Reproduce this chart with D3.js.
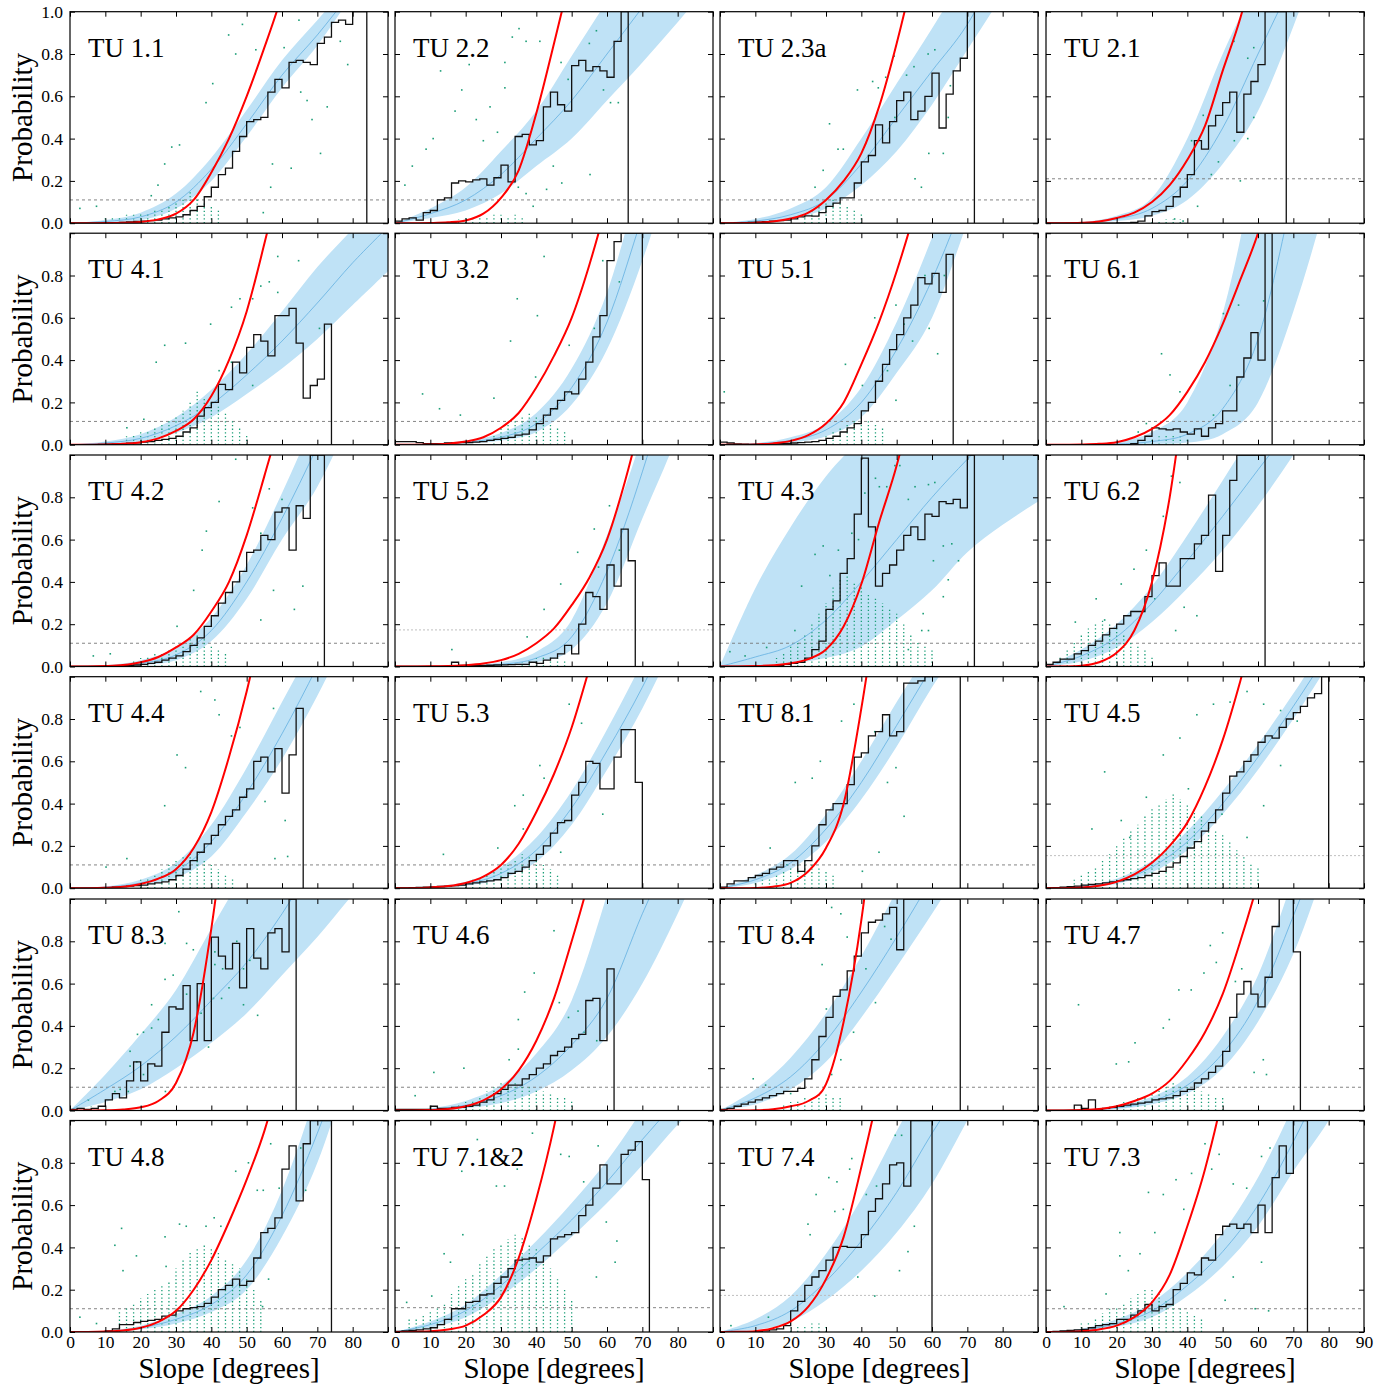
<!DOCTYPE html>
<html lang="en">
  <head>
    <meta charset="UTF-8" />
    <title>Probability vs slope</title>
    <script src="https://d3js.org/d3.v7.min.js"></script>
    <style>
      body { margin: 0; background: #fff; }
      text { font-family: "Liberation Serif", "DejaVu Serif", serif; }
    </style>
  </head>
  <body>
    <svg width="1397" height="1387"></svg>
    <script>
      // panel names, row by row
      var names = ["TU 1.1", "TU 2.2", "TU 2.3a", "TU 2.1",
                   "TU 4.1", "TU 3.2", "TU 5.1", "TU 6.1",
                   "TU 4.2", "TU 5.2", "TU 4.3", "TU 6.2",
                   "TU 4.4", "TU 5.3", "TU 8.1", "TU 4.5",
                   "TU 8.3", "TU 4.6", "TU 8.4", "TU 4.7",
                   "TU 4.8", "TU 7.1&2", "TU 7.4", "TU 7.3"];

      // slopes (degrees) where the fitted curves and the band were read
      var knots = [0, 10, 20, 30, 40, 50, 60, 70, 80, 90];
      // slopes where the steeper red curves were read
      var redKnots = [0, 5, 10, 15, 20, 25, 30, 35, 40, 45, 50, 55, 60, 65, 70, 75, 80, 85, 90];

      // fitted curve (thin blue line)
      var centre = [
        [0, 0.008, 0.03, 0.1, 0.255, 0.47, 0.7, 0.89, 1.1, 1.3],
        [0, 0.045, 0.11, 0.23, 0.4, 0.58, 0.8, 1.02, 1.25, 1.5],
        [0, 0.01, 0.04, 0.11, 0.28, 0.5, 0.72, 0.94, 1.25, 1.55],
        [0, 0.003, 0.02, 0.07, 0.2, 0.45, 0.8, 1.15, 1.5, 1.9],
        [0, 0.008, 0.03, 0.09, 0.19, 0.33, 0.49, 0.67, 0.86, 1.03],
        [0, 0.002, 0.012, 0.035, 0.1, 0.27, 0.58, 1.08, 1.6, 2.2],
        [0, 0.004, 0.02, 0.07, 0.2, 0.45, 0.78, 1.2, 1.7, 2.2],
        [0, 0, 0.003, 0.015, 0.05, 0.17, 0.5, 1.2, 2, 3],
        [0, 0.003, 0.015, 0.055, 0.17, 0.4, 0.7, 1.04, 1.4, 1.8],
        [0, 0, 0.003, 0.01, 0.04, 0.14, 0.45, 0.92, 1.5, 2.2],
        [0, 0.045, 0.1, 0.22, 0.4, 0.6, 0.8, 0.98, 1.15, 1.3],
        [0, 0.05, 0.14, 0.3, 0.5, 0.71, 0.93, 1.15, 1.4, 1.65],
        [0, 0.005, 0.025, 0.08, 0.22, 0.45, 0.73, 1.05, 1.4, 1.8],
        [0, 0.004, 0.02, 0.07, 0.18, 0.38, 0.65, 0.95, 1.3, 1.7],
        [0, 0.04, 0.12, 0.28, 0.5, 0.77, 1.05, 1.35, 1.65, 2],
        [0, 0.008, 0.03, 0.1, 0.22, 0.4, 0.62, 0.86, 1.12, 1.4],
        [0, 0.1, 0.21, 0.35, 0.52, 0.7, 0.93, 1.2, 1.45, 1.7],
        [0, 0.005, 0.025, 0.07, 0.16, 0.31, 0.53, 0.93, 1.3, 1.7],
        [0, 0.06, 0.16, 0.33, 0.56, 0.82, 1.1, 1.4, 1.7, 2],
        [0, 0.002, 0.012, 0.045, 0.12, 0.27, 0.52, 0.92, 1.35, 1.8],
        [0, 0.003, 0.02, 0.06, 0.13, 0.27, 0.55, 0.94, 1.4, 1.9],
        [0, 0.035, 0.1, 0.22, 0.37, 0.53, 0.71, 0.91, 1.1, 1.3],
        [0, 0.03, 0.1, 0.24, 0.43, 0.66, 0.94, 1.2, 1.5, 1.8],
        [0, 0.01, 0.04, 0.1, 0.22, 0.38, 0.6, 0.9, 1.25, 1.6]
      ];

      // lower edge of the blue band
      var lower = [
        [0, 0.003, 0.015, 0.07, 0.2, 0.41, 0.64, 0.84, 1.08, 1.3],
        [0, 0.025, 0.06, 0.14, 0.27, 0.4, 0.58, 0.76, 0.95, 1.15],
        [0, 0.005, 0.02, 0.07, 0.18, 0.34, 0.56, 0.82, 1.08, 1.35],
        [0, 0.001, 0.01, 0.035, 0.11, 0.28, 0.53, 0.93, 1.4, 1.9],
        [0, 0.003, 0.015, 0.055, 0.13, 0.24, 0.36, 0.5, 0.66, 0.82],
        [0, 0.001, 0.006, 0.02, 0.06, 0.19, 0.45, 0.87, 1.4, 2],
        [0, 0.002, 0.01, 0.04, 0.13, 0.34, 0.6, 1.05, 1.5, 2],
        [0, 0, 0, 0.003, 0.01, 0.05, 0.2, 0.63, 1.2, 1.9],
        [0, 0.001, 0.007, 0.03, 0.12, 0.32, 0.6, 0.85, 1.2, 1.6],
        [0, 0, 0.001, 0.005, 0.02, 0.08, 0.3, 0.7, 1.1, 1.6],
        [0, 0.005, 0.015, 0.04, 0.095, 0.22, 0.36, 0.54, 0.67, 0.78],
        [0, 0.025, 0.09, 0.21, 0.37, 0.55, 0.76, 1.0, 1.25, 1.5],
        [0, 0.002, 0.015, 0.05, 0.15, 0.36, 0.61, 0.91, 1.25, 1.6],
        [0, 0.002, 0.012, 0.045, 0.125, 0.3, 0.56, 0.85, 1.2, 1.6],
        [0, 0.025, 0.09, 0.22, 0.42, 0.67, 0.95, 1.2, 1.5, 1.8],
        [0, 0.005, 0.02, 0.075, 0.18, 0.35, 0.56, 0.8, 1.06, 1.32],
        [0, 0.04, 0.1, 0.2, 0.32, 0.46, 0.64, 0.82, 1.02, 1.2],
        [0, 0.002, 0.01, 0.035, 0.09, 0.19, 0.35, 0.6, 0.93, 1.3],
        [0, 0.03, 0.1, 0.23, 0.44, 0.68, 0.93, 1.2, 1.5, 1.8],
        [0, 0.001, 0.007, 0.03, 0.08, 0.2, 0.42, 0.74, 1.2, 1.7],
        [0, 0.001, 0.012, 0.04, 0.095, 0.2, 0.45, 0.8, 1.3, 1.8],
        [0, 0.02, 0.07, 0.17, 0.3, 0.45, 0.61, 0.79, 0.98, 1.15],
        [0, 0.01, 0.05, 0.15, 0.29, 0.47, 0.7, 1.0, 1.3, 1.6],
        [0, 0.005, 0.025, 0.07, 0.17, 0.31, 0.5, 0.76, 1.0, 1.3]
      ];

      // upper edge of the blue band
      var upper = [
        [0, 0.015, 0.05, 0.14, 0.31, 0.535, 0.77, 0.96, 1.15, 1.35],
        [0, 0.07, 0.17, 0.34, 0.53, 0.79, 1.05, 1.3, 1.6, 1.9],
        [0, 0.02, 0.07, 0.17, 0.4, 0.66, 0.92, 1.2, 1.5, 1.8],
        [0, 0.005, 0.035, 0.12, 0.4, 0.8, 1.15, 1.5, 1.9, 2.3],
        [0, 0.015, 0.05, 0.13, 0.26, 0.43, 0.63, 0.84, 1.02, 1.2],
        [0, 0.004, 0.02, 0.055, 0.15, 0.36, 0.72, 1.3, 1.9, 2.5],
        [0, 0.007, 0.035, 0.1, 0.27, 0.58, 0.98, 1.45, 2, 2.5],
        [0, 0.002, 0.015, 0.06, 0.2, 0.62, 1.4, 2.4, 3.5, 4.5],
        [0, 0.006, 0.03, 0.09, 0.23, 0.48, 0.82, 1.2, 1.6, 2],
        [0, 0.001, 0.005, 0.02, 0.07, 0.22, 0.62, 1.1, 1.8, 2.5],
        [0, 0.37, 0.66, 0.9, 1.08, 1.25, 1.4, 1.55, 1.7, 1.85],
        [0, 0.08, 0.2, 0.38, 0.62, 0.88, 1.15, 1.45, 1.75, 2.05],
        [0, 0.008, 0.04, 0.12, 0.3, 0.57, 0.88, 1.2, 1.6, 2],
        [0, 0.007, 0.03, 0.1, 0.24, 0.46, 0.75, 1.07, 1.4, 1.8],
        [0, 0.06, 0.16, 0.35, 0.6, 0.88, 1.15, 1.45, 1.8, 2.1],
        [0, 0.012, 0.045, 0.13, 0.27, 0.46, 0.68, 0.92, 1.18, 1.45],
        [0, 0.17, 0.36, 0.57, 0.86, 1.15, 1.45, 1.75, 2.05, 2.35],
        [0, 0.01, 0.045, 0.12, 0.27, 0.52, 1.02, 1.6, 2.2, 2.8],
        [0, 0.1, 0.25, 0.46, 0.73, 1.04, 1.35, 1.7, 2, 2.3],
        [0, 0.004, 0.02, 0.065, 0.16, 0.35, 0.64, 1.1, 1.6, 2.1],
        [0, 0.005, 0.03, 0.085, 0.17, 0.34, 0.67, 1.15, 1.7, 2.2],
        [0, 0.05, 0.13, 0.27, 0.43, 0.61, 0.81, 1.05, 1.3, 1.55],
        [0, 0.06, 0.17, 0.37, 0.63, 0.95, 1.25, 1.6, 1.9, 2.2],
        [0, 0.015, 0.06, 0.14, 0.28, 0.47, 0.73, 1.07, 1.45, 1.85]
      ];

      // red reference curve, read every 5 degrees
      var redCurve = [
        [0,0,0.0005,0.002,0.006,0.018,0.045,0.11,0.24,0.4,0.6,0.83,1.08,1.4,1.8,2.2,2.6,3.0,3.5],
        [0,0,0.001,0.004,0.013,0.045,0.12,0.25,0.52,0.85,1.2,1.6,2.2,2.8,3.5,4.2,5,6,7],
        [0,0,0.002,0.008,0.022,0.05,0.11,0.2,0.33,0.55,0.85,1.2,1.6,2.1,2.6,3.2,4,4.7,5.5],
        [0,0,0.002,0.008,0.025,0.05,0.1,0.18,0.3,0.46,0.72,0.97,1.3,1.7,2.1,2.5,3,3.5,4],
        [0,0,0.001,0.004,0.012,0.03,0.065,0.12,0.23,0.4,0.63,0.95,1.3,1.7,2.2,2.7,3.3,3.9,4.5],
        [0,0,0.001,0.005,0.015,0.035,0.08,0.15,0.27,0.42,0.6,0.85,1.15,1.5,1.9,2.3,2.8,3.3,3.8],
        [0,0,0.001,0.006,0.018,0.045,0.1,0.2,0.38,0.58,0.82,1.1,1.45,1.9,2.4,3,3.6,4.3,5],
        [0,0,0.001,0.004,0.012,0.035,0.075,0.14,0.25,0.39,0.57,0.78,1.0,1.3,1.6,2,2.4,2.8,3.3],
        [0,0,0.002,0.007,0.02,0.045,0.09,0.15,0.26,0.4,0.62,0.9,1.2,1.55,2,2.5,3,3.5,4],
        [0,0,0.001,0.002,0.006,0.014,0.03,0.06,0.11,0.18,0.29,0.42,0.6,0.87,1.2,1.6,2,2.5,3],
        [0,0,0.002,0.006,0.015,0.035,0.08,0.19,0.39,0.68,0.95,1.3,1.8,2.4,3,3.7,4.5,5.2,6],
        [0,0,0.003,0.02,0.065,0.17,0.4,0.8,1.4,2.1,3,4,5,6,7,8,9,10,11],
        [0,0,0.002,0.007,0.02,0.045,0.09,0.19,0.36,0.62,0.93,1.3,1.7,2.2,2.8,3.4,4,4.7,5.5],
        [0,0,0.003,0.01,0.025,0.055,0.11,0.21,0.36,0.54,0.76,1.04,1.35,1.7,2.1,2.5,3,3.5,4],
        [0,0,0.001,0.007,0.025,0.08,0.19,0.4,0.85,1.4,2,2.7,3.5,4.2,5,6,7,8,9],
        [0,0,0.003,0.012,0.03,0.065,0.12,0.2,0.31,0.48,0.7,0.98,1.3,1.65,2,2.5,3,3.5,4],
        [0,0,0.001,0.005,0.015,0.045,0.13,0.37,0.86,1.5,2.2,3,4,5,6,7,8,9,10],
        [0,0,0.002,0.007,0.02,0.048,0.1,0.19,0.33,0.53,0.8,1.1,1.5,1.9,2.3,2.7,3.2,3.7,4.2],
        [0,0,0.001,0.006,0.02,0.045,0.125,0.42,0.9,1.6,2.5,3.5,4.5,5.5,6.5,7.5,8.5,9.5,10.5],
        [0,0,0.002,0.007,0.02,0.045,0.08,0.14,0.24,0.37,0.55,0.8,1.08,1.4,1.8,2.2,2.7,3.2,3.7],
        [0,0,0.002,0.007,0.02,0.048,0.1,0.2,0.34,0.52,0.72,0.95,1.25,1.6,2,2.5,3,3.5,4],
        [0,0,0.003,0.012,0.03,0.08,0.165,0.35,0.63,0.97,1.4,1.9,2.5,3.2,4,4.7,5.5,6.2,7],
        [0,0.001,0.004,0.018,0.05,0.12,0.25,0.45,0.78,1.15,1.6,2.2,2.8,3.4,4,4.7,5.5,6.2,7],
        [0,0,0.004,0.012,0.03,0.07,0.14,0.27,0.5,0.77,1.12,1.6,2.2,2.8,3.5,4.2,5,5.7,6.5]
      ];

      // observed probability per 2-degree slope bin, first bin starts at 0
      var binWidth = 2;
      var hist = [
        [0,0,0,0,0,0.002,0.003,0.004,0.006,0.008,0.01,0.012,0.015,0.02,0.025,0.03,0.04,0.06,0.08,0.125,0.17,0.23,0.26,0.34,0.41,0.48,0.49,0.5,0.62,0.68,0.64,0.76,0.77,0.76,0.75,0.85,0.88,0.95,0.96,0.94,1,1],
        [0.01,0.02,0.025,0.015,0.05,0.06,0.11,0.12,0.19,0.2,0.195,0.205,0.21,0.18,0.215,0.275,0.195,0.41,0.42,0.37,0.39,0.55,0.62,0.56,0.53,0.745,0.77,0.72,0.74,0.72,0.69,0.86,1],
        [0,0,0.002,0.003,0.004,0.005,0.007,0.01,0.012,0.015,0.02,0.03,0.035,0.033,0.05,0.08,0.095,0.12,0.12,0.19,0.29,0.32,0.465,0.38,0.48,0.58,0.62,0.49,0.53,0.6,0.71,0.45,0.61,0.72,0.78,1],
        [0,0,0,0,0,0,0,0,0,0,0.001,0.002,0.004,0.01,0.035,0.055,0.06,0.08,0.125,0.17,0.23,0.39,0.35,0.46,0.51,0.57,0.62,0.43,0.61,0.67,0.75,1,1,1],
        [0,0,0,0,0.002,0.003,0.004,0.005,0.007,0.009,0.012,0.015,0.02,0.025,0.03,0.04,0.06,0.08,0.135,0.175,0.2,0.285,0.26,0.39,0.34,0.46,0.52,0.49,0.42,0.61,0.61,0.645,0.48,0.22,0.28,0.31,0.57],
        [0.015,0.015,0.015,0.01,0.005,0.005,0.005,0.008,0.01,0.01,0.01,0.012,0.015,0.02,0.025,0.03,0.035,0.045,0.05,0.07,0.1,0.14,0.17,0.21,0.25,0.24,0.31,0.39,0.51,0.61,0.87,0.96,1,1,1],
        [0.012,0.008,0.004,0.003,0.002,0.002,0.003,0.004,0.005,0.006,0.008,0.01,0.012,0.015,0.02,0.03,0.04,0.06,0.08,0.1,0.16,0.2,0.3,0.38,0.45,0.52,0.6,0.66,0.79,0.76,0.81,0.72,0.9],
        [0,0,0,0,0,0,0,0,0,0,0,0,0.005,0.02,0.04,0.08,0.075,0.07,0.075,0.06,0.05,0.075,0.04,0.08,0.1,0.16,0.16,0.32,0.41,0.53,0.4,1],
        [0,0,0,0,0,0.002,0.003,0.004,0.005,0.007,0.01,0.015,0.02,0.03,0.04,0.05,0.07,0.1,0.135,0.19,0.24,0.3,0.35,0.4,0.45,0.54,0.55,0.62,0.6,0.73,0.75,0.55,0.76,0.7,1,1],
        [0,0,0,0,0,0,0,0,0.02,0.005,0.005,0.005,0.005,0.006,0.007,0.008,0.009,0.01,0.01,0.02,0.015,0.03,0.04,0.06,0.1,0.06,0.2,0.35,0.33,0.27,0.48,0.38,0.65,0.5],
        [0,0,0,0,0,0,0,0,0.005,0.01,0.015,0.02,0.04,0.08,0.12,0.27,0.31,0.44,0.51,0.72,0.985,0.66,0.38,0.44,0.48,0.55,0.62,0.66,0.6,0.72,0.71,0.78,0.77,0.79,0.75,1],
        [0.01,0.02,0.035,0.035,0.06,0.075,0.1,0.12,0.15,0.18,0.2,0.24,0.26,0.26,0.33,0.43,0.49,0.38,0.38,0.51,0.51,0.58,0.62,0.81,0.45,0.62,0.88,1,1,1,1],
        [0,0,0,0,0.002,0.003,0.005,0.007,0.01,0.012,0.015,0.02,0.025,0.03,0.04,0.06,0.09,0.13,0.17,0.21,0.25,0.3,0.34,0.37,0.43,0.47,0.6,0.62,0.55,0.66,0.45,0.63,0.85],
        [0.002,0.002,0.003,0.004,0.005,0.006,0.008,0.01,0.012,0.015,0.02,0.025,0.03,0.035,0.04,0.05,0.07,0.08,0.1,0.13,0.16,0.2,0.26,0.31,0.32,0.44,0.5,0.6,0.59,0.47,0.47,0.62,0.75,0.75,0.5],
        [0.005,0.02,0.035,0.035,0.05,0.06,0.07,0.09,0.1,0.13,0.13,0.08,0.13,0.2,0.3,0.37,0.4,0.4,0.49,0.62,0.64,0.72,0.74,0.82,0.72,0.74,0.97,0.97,0.98,1,1,1,1,1],
        [0.002,0.003,0.005,0.007,0.01,0.015,0.018,0.02,0.025,0.03,0.035,0.04,0.045,0.05,0.06,0.07,0.08,0.1,0.12,0.15,0.19,0.22,0.27,0.31,0.37,0.45,0.53,0.55,0.6,0.63,0.69,0.72,0.71,0.76,0.8,0.83,0.86,0.9,0.92,1],
        [0.005,0.01,0.005,0.01,0.02,0.05,0.08,0.06,0.14,0.23,0.14,0.22,0.21,0.37,0.49,0.48,0.59,0.33,0.6,0.33,0.82,0.73,0.67,0.79,0.58,0.86,0.72,0.67,0.84,0.86,0.75,1],
        [0.005,0.005,0.005,0.005,0.005,0.02,0.01,0.01,0.015,0.015,0.02,0.025,0.04,0.05,0.08,0.1,0.12,0.12,0.15,0.17,0.2,0.22,0.26,0.28,0.3,0.34,0.36,0.52,0.53,0.33,0.67],
        [0.005,0.01,0.02,0.03,0.04,0.05,0.06,0.07,0.08,0.09,0.09,0.105,0.15,0.24,0.35,0.44,0.54,0.57,0.66,0.73,0.84,0.89,0.9,0.93,0.96,0.76,1,1,1,1,1,1,1,1],
        [0,0,0,0,0.025,0.01,0.05,0.005,0.01,0.015,0.02,0.025,0.03,0.035,0.04,0.05,0.055,0.06,0.07,0.09,0.1,0.13,0.15,0.18,0.21,0.28,0.44,0.55,0.61,0.55,0.49,0.63,0.87,1,1,0.75],
        [0,0,0,0,0,0.005,0.015,0.035,0.035,0.045,0.05,0.055,0.06,0.075,0.08,0.1,0.11,0.115,0.12,0.135,0.165,0.2,0.22,0.25,0.22,0.24,0.35,0.47,0.49,0.54,0.77,0.88,0.62,0.89,1,1,1],
        [0.003,0.005,0.008,0.01,0.015,0.02,0.035,0.06,0.11,0.11,0.14,0.145,0.175,0.18,0.23,0.26,0.3,0.34,0.345,0.35,0.33,0.36,0.44,0.45,0.46,0.47,0.55,0.6,0.68,0.79,0.7,0.7,0.84,0.86,0.9,0.72],
        [0,0,0,0,0.002,0.003,0.005,0.01,0.015,0.03,0.1,0.145,0.22,0.26,0.29,0.34,0.4,0.405,0.4,0.4,0.46,0.57,0.63,0.7,0.79,0.8,0.69,1,1,1],
        [0,0.003,0.005,0.007,0.01,0.012,0.02,0.03,0.035,0.04,0.06,0.06,0.08,0.1,0.13,0.1,0.12,0.13,0.2,0.23,0.28,0.27,0.35,0.34,0.46,0.5,0.51,0.49,0.51,0.47,0.6,0.47,0.73,0.88,0.75,1,1]
      ];

      // dashed reference level, and whether it is drawn in light grey
      var level = [0.11, 0.11, 0.11, 0.21, 0.11, 0.11, 0.11, 0.11, 0.11, 0.173, 0.11, 0.11,
                   0.11, 0.11, 0.11, 0.154, 0.11, 0.11, 0.11, 0.11, 0.11, 0.115, 0.173, 0.11];
      var levelLight = [0,0,0,0, 0,0,0,0, 0,1,0,0, 0,0,0,1, 0,0,0,0, 0,0,1,0];

      // dense columns of cell samples: [slope, highest probability]
      var columns = [
        [[10,0.03],[12,0.03],[14,0.03],[16,0.04],[18,0.04],[20,0.05],[22,0.05],[24,0.06],[26,0.07],[28,0.08],[30,0.1],[32,0.12],[34,0.15],[36,0.12],[38,0.1],[40,0.08],[42,0.06]],
        [[18,0.02],[20,0.03],[22,0.02],[24,0.03],[26,0.03],[28,0.04],[30,0.04],[32,0.03],[34,0.04],[36,0.03]],
        [[24,0.04],[26,0.06],[28,0.08],[30,0.1],[32,0.12],[34,0.1],[36,0.08],[38,0.06],[40,0.05]],
        [[30,0.01],[32,0.015],[34,0.02],[36,0.02],[38,0.02]],
        [[16,0.04],[18,0.05],[20,0.06],[22,0.07],[24,0.08],[26,0.1],[28,0.12],[30,0.14],[32,0.16],[34,0.2],[36,0.25],[38,0.22],[40,0.2],[42,0.18],[44,0.15],[46,0.12],[48,0.08],[50,0.05]],
        [[28,0.05],[30,0.08],[32,0.1],[34,0.12],[36,0.14],[38,0.15],[40,0.13],[42,0.12],[44,0.1],[46,0.08],[48,0.06]],
        [[30,0.04],[32,0.06],[34,0.08],[36,0.1],[38,0.12],[40,0.14],[42,0.12],[44,0.1],[46,0.08]],
        [[28,0.02],[30,0.03],[32,0.04],[34,0.05],[36,0.05],[38,0.04],[40,0.03]],
        [[18,0.03],[20,0.04],[22,0.05],[24,0.06],[26,0.07],[28,0.08],[30,0.1],[32,0.12],[34,0.14],[36,0.15],[38,0.13],[40,0.1],[42,0.08],[44,0.06]],
        [[36,0.02],[38,0.03],[40,0.04],[42,0.05],[44,0.05],[46,0.04],[48,0.03]],
        [[16,0.04],[18,0.06],[20,0.1],[22,0.12],[24,0.15],[26,0.2],[28,0.25],[30,0.3],[32,0.38],[34,0.42],[36,0.45],[38,0.4],[40,0.38],[42,0.35],[44,0.32],[46,0.3],[48,0.28],[50,0.25],[52,0.2],[54,0.15],[56,0.12],[58,0.1],[60,0.08]],
        [[4,0.05],[6,0.08],[8,0.12],[10,0.15],[12,0.18],[14,0.2],[16,0.22],[18,0.2],[20,0.18],[22,0.15],[24,0.12],[26,0.1],[28,0.08],[30,0.05]],
        [[20,0.04],[22,0.05],[24,0.07],[26,0.09],[28,0.11],[30,0.13],[32,0.15],[34,0.17],[36,0.15],[38,0.13],[40,0.11],[42,0.09],[44,0.07],[46,0.05]],
        [[20,0.03],[22,0.04],[24,0.05],[26,0.06],[28,0.08],[30,0.1],[32,0.12],[34,0.14],[36,0.16],[38,0.15],[40,0.13],[42,0.11],[44,0.09],[46,0.07]],
        [[10,0.03],[12,0.04],[14,0.05],[16,0.06],[18,0.08],[20,0.1],[22,0.12],[24,0.13],[26,0.12],[28,0.1],[30,0.08],[32,0.06]],
        [[8,0.04],[10,0.06],[12,0.08],[14,0.1],[16,0.13],[18,0.16],[20,0.2],[22,0.24],[24,0.28],[26,0.3],[28,0.34],[30,0.38],[32,0.4],[34,0.42],[36,0.45],[38,0.42],[40,0.4],[42,0.38],[44,0.35],[46,0.3],[48,0.28],[50,0.25],[52,0.22],[54,0.18],[56,0.15],[58,0.12],[60,0.1]],
        [[2,0.01],[4,0.015],[6,0.02],[8,0.02],[10,0.02]],
        [[18,0.03],[20,0.04],[22,0.05],[24,0.07],[26,0.09],[28,0.11],[30,0.13],[32,0.14],[34,0.13],[36,0.12],[38,0.11],[40,0.1],[42,0.09],[44,0.08],[46,0.07],[48,0.06],[50,0.05]],
        [[18,0.03],[20,0.04],[22,0.05],[24,0.06],[26,0.07],[28,0.08],[30,0.08],[32,0.07],[34,0.06]],
        [[22,0.04],[24,0.05],[26,0.06],[28,0.07],[30,0.08],[32,0.1],[34,0.12],[36,0.13],[38,0.12],[40,0.11],[42,0.1],[44,0.09],[46,0.08],[48,0.07],[50,0.06]],
        [[14,0.1],[16,0.12],[18,0.14],[20,0.16],[22,0.18],[24,0.2],[26,0.22],[28,0.24],[30,0.3],[32,0.35],[34,0.38],[36,0.4],[38,0.42],[40,0.4],[42,0.38],[44,0.35],[46,0.32],[48,0.3],[50,0.25],[52,0.2],[54,0.15]],
        [[4,0.06],[6,0.07],[8,0.08],[10,0.1],[12,0.12],[14,0.14],[16,0.18],[18,0.22],[20,0.25],[22,0.28],[24,0.32],[26,0.36],[28,0.4],[30,0.42],[32,0.44],[34,0.46],[36,0.45],[38,0.42],[40,0.4],[42,0.35],[44,0.3],[46,0.25],[48,0.2],[50,0.15]],
        [[20,0.02],[22,0.03],[24,0.03],[26,0.04],[28,0.04],[30,0.03]],
        [[10,0.04],[12,0.05],[14,0.07],[16,0.09],[18,0.11],[20,0.12],[22,0.14],[24,0.16],[26,0.18],[28,0.2],[30,0.2],[32,0.18],[34,0.15],[36,0.13],[38,0.11],[40,0.1],[42,0.08],[44,0.06]]
      ];

      // scattered single samples: [slope, probability]
      var points = [
        [[44.9,0.89],[48.8,0.94],[46.9,0.8],[52.6,0.82],[60.6,0.83],[64.8,0.96],[76.5,0.86],[78.6,0.75],[72.8,0.55],[68.5,0.49],[70.9,0.33],[62.6,0.26],[40.4,0.66],[38.5,0.57],[28.8,0.36],[31,0.37],[26.8,0.28],[24.9,0.18],[23,0.13],[54.7,0.05],[56.8,0.17],[57.3,0.28],[65.3,0.62],[67.1,0.58],[2.8,0.07],[7.5,0.08]],
        [[35.1,0.92],[33.2,0.88],[37.1,0.86],[41,0.86],[12.9,0.72],[21,0.75],[57,0.91],[55,0.85],[47,0.76],[49,0.68],[59,0.63],[61,0.57],[63.2,0.57],[55.2,0.23],[44.8,0.27],[47.2,0.19],[10.8,0.4],[8.8,0.35],[4.9,0.27],[2.8,0.18],[26.9,0.55],[31.1,0.64],[17,0.53],[23,0.49],[25,0.39],[29,0.43],[31.1,0.76],[18.9,0.63],[37.1,0.14],[39.1,0.08],[34.9,0.17],[42.9,0.16]],
        [[49.3,0.79],[46.9,0.69],[52.8,0.7],[54.9,0.74],[58.9,0.8],[60.8,0.82],[43.2,0.67],[44.8,0.64],[38.9,0.63],[31,0.47],[29.2,0.25],[33.4,0.35],[34.9,0.35],[59.1,0.33],[63.2,0.33],[55.2,0.21],[57,0.17],[49.5,0.5],[64.6,0.5],[26.9,0.17],[65.2,0.65]],
        [[53.2,0.86],[58.8,0.83],[57.1,0.78],[44.5,0.51],[58.8,0.5],[41.2,0.39],[57.1,0.4],[53.3,0.39],[48.8,0.29],[46.8,0.23],[55,0.2],[42.9,0.08],[36.4,0.02],[38.8,0.01]],
        [[58.8,0.89],[64.7,0.87],[56.4,0.77],[54,0.75],[48.1,0.69],[45.7,0.65],[26.8,0.47],[32.7,0.48],[24.4,0.39],[39.8,0.57],[51.7,0.69],[58.8,0.72],[70.6,0.55],[45.7,0.39],[42.2,0.35],[51.7,0.28],[20.9,0.12],[16.1,0.08]],
        [[42.2,0.89],[34.6,0.69],[40.3,0.61],[32.7,0.49],[49.3,0.47],[39.8,0.32],[45.7,0.17],[7.8,0.24],[12.6,0.17],[18.5,0.14],[28,0.22],[58.8,0.87],[63.5,0.77],[56.4,0.55]],
        [[1.2,0.25],[35.5,0.38],[43.8,0.6],[49.8,0.66],[52.1,0.57],[54.5,0.49],[61.6,0.43],[59.2,0.55],[40.3,0.28],[47.4,0.35],[49.8,0.21],[58,0.8],[63.5,0.8]],
        [[32.7,0.43],[35.1,0.33],[37.9,0.25],[50.2,0.62],[54.5,0.66],[61.6,0.68],[52.1,0.28],[47.4,0.14],[26.1,0.06],[28.4,0.1]],
        [[46.9,0.98],[38.6,0.64],[37.4,0.55],[42.2,0.78],[56.4,0.84],[60,0.79],[51.7,0.75],[54,0.63],[65.9,0.38],[63.5,0.27],[54,0.22],[57.6,0.36],[35,0.36],[30.3,0.19],[11.4,0.06],[6.6,0.05]],
        [[16.1,0.08],[60.7,0.76],[56.4,0.65],[51.7,0.54],[46.9,0.39],[42.2,0.27],[37.4,0.14],[57.6,0.47],[63.5,0.55]],
        [[49.5,0.95],[50.9,0.95],[44,0.89],[45.1,0.85],[47.2,0.85],[41,0.82],[60.8,0.87],[59,0.86],[53.3,0.79],[55.2,0.85],[26.9,0.53],[29.2,0.57],[33.5,0.55],[37.3,0.63],[39.2,0.6],[23.1,0.38],[31.1,0.43],[65.6,0.58],[63.2,0.57],[60.4,0.5],[67.5,0.5],[64.6,0.41],[63.2,0.33],[57.5,0.25],[57.1,0.17],[59,0.17],[53.3,0.08],[21.2,0.17],[13.2,0.09],[2.8,0.07],[7.1,0.05]],
        [[14.2,0.32],[16.6,0.22],[21.3,0.39],[24.9,0.46],[28.4,0.55],[33.2,0.71],[37.9,0.87],[35.5,0.9],[39.1,0.28],[42.7,0.24],[36.7,0.17],[30.8,0.32],[8.3,0.21]],
        [[37,0.93],[41,0.89],[42.2,0.82],[45.7,0.72],[48.1,0.76],[57.6,0.85],[30.3,0.63],[32.7,0.57],[26.8,0.39],[55.2,0.41],[60.9,0.32],[58,0.14],[61.6,0.15],[16.1,0.14],[10.2,0.1]],
        [[33.9,0.39],[36.3,0.44],[41,0.58],[42.2,0.52],[49.3,0.87],[52.8,0.78],[58.8,0.35],[46.9,0.17],[29.1,0.19],[13.7,0.16],[36.3,0.28]],
        [[21.3,0.5],[26.1,0.52],[28.4,0.6],[34.4,0.79],[37.9,0.87],[43.8,0.74],[49.8,0.57],[47.4,0.5],[52.1,0.34],[45,0.17],[14.2,0.19],[19,0.11],[40.3,0.08]],
        [[16.6,0.55],[13,0.28],[28.4,0.43],[33.2,0.63],[37.9,0.71],[42.7,0.82],[47.4,0.87],[52.1,0.88],[56.9,0.93],[61.6,0.87],[66.4,0.84],[71.1,0.79],[66.4,0.58],[61.6,0.39],[56.9,0.24],[49.8,0.35],[23.7,0.24],[21.3,0.32],[40.3,0.47]],
        [[30.8,0.94],[26.9,0.79],[33,0.79],[34.9,0.76],[26.9,0.62],[29.2,0.64],[23.1,0.5],[25,0.43],[23.1,0.39],[19.1,0.36],[20.8,0.37],[17,0.28],[18.9,0.23],[17,0.21],[20.8,0.17],[16.5,0.09],[41,0.75],[41,0.69],[43.2,0.67],[40.6,0.53],[42.9,0.53],[45,0.58],[47.2,0.8],[49.1,0.67],[50.9,0.71],[49.1,0.5],[53.1,0.45],[39.2,0.3],[33,0.55],[37.1,0.46],[27,0.09],[12.7,0.09],[14.2,0.1],[5.2,0.05]],
        [[39.4,0.65],[36.7,0.56],[34.9,0.43],[45,0.85],[49.1,0.44],[51.8,0.47],[53.5,0.37],[46.5,0.51],[57.1,0.33],[11,0.18],[19.5,0.2],[5.7,0.07],[34.9,0.29],[32.3,0.24]],
        [[31.6,0.96],[34.2,0.93],[28.9,0.69],[30.1,0.48],[36,0.82],[38.7,0.73],[41.3,0.67],[44,0.51],[46.6,0.87],[48.4,0.81],[37.8,0.37],[34.2,0.24],[31.6,0.17],[20,0.08],[9.4,0.15],[12.9,0.12]],
        [[9.2,0.5],[34.9,0.43],[37.6,0.57],[41.1,0.57],[44.7,0.65],[46.5,0.78],[48.2,0.7],[53.6,0.61],[55.4,0.67],[25.2,0.32],[23.4,0.23],[19.9,0.22],[61.5,0.24],[62.4,0.17],[58.9,0.18],[33.2,0.39],[50,0.84]],
        [[14.6,0.49],[12.7,0.41],[15,0.29],[18.8,0.36],[27.2,0.31],[26.9,0.45],[31,0.51],[32.9,0.5],[38.5,0.5],[40.8,0.54],[42.7,0.5],[46.9,0.76],[50.5,0.8],[53,0.67],[54.7,0.67],[56.8,0.89],[59.2,0.68],[65.3,0.87],[66.7,0.67],[56.2,0.25],[54.5,0.12],[2.8,0.07],[7.5,0.04]],
        [[38.9,0.94],[23.3,0.91],[18.9,0.76],[28.7,0.69],[31,0.69],[46.9,0.84],[49.3,0.83],[53.4,0.71],[57.5,0.88],[59.8,0.52],[62.8,0.43],[62.3,0.33],[57,0.26],[19.2,0.46],[13.9,0.37],[15.7,0.33],[10.4,0.17],[3.3,0.14],[34.6,0.77]],
        [[37.3,0.82],[36.7,0.77],[30.8,0.73],[33.1,0.71],[27.2,0.65],[32.5,0.57],[34.9,0.58],[41.4,0.65],[44.3,0.69],[49.6,0.93],[51.4,0.93],[55,0.5],[53.2,0.38],[50.8,0.29],[43.8,0.17],[39,0.26],[24.9,0.51],[25.5,0.46],[13.7,0.07],[3.1,0.03]],
        [[45,0.89],[49,0.84],[46.9,0.77],[41.2,0.75],[36.8,0.72],[29,0.66],[33.2,0.65],[39,0.58],[20.9,0.47],[30.8,0.47],[26.6,0.37],[20.9,0.36],[23.3,0.29],[53,0.7],[56.8,0.68],[61,0.33],[53,0.26],[50.7,0.15],[59.2,0.11],[63,0.1],[5.1,0.12],[17,0.18],[63.4,0.87],[61,0.83]]
      ];

      var xTicks = [0, 10, 20, 30, 40, 50, 60, 70, 80, 90];
      var yTicks = [0, 0.2, 0.4, 0.6, 0.8, 1.0];

      var W = 318, H = 211.5;
      var colX = [70, 395, 720, 1046];
      var rowY = [11.7, 233.2, 455, 676.7, 899, 1120.5];
      var green = "#1b9e77";
      var smooth = d3.curveCatmullRom.alpha(0);

      const svg = d3.select("svg");
      const defs = svg.append("defs");

      names.forEach(function (name, i) {
        var r = Math.floor(i / 4), c = i % 4;
        var x = d3.scaleLinear().domain([0, 90]).range([colX[c], colX[c] + W]);
        var y = d3.scaleLinear().domain([0, 1]).range([rowY[r] + H, rowY[r]]);

        defs.append("clipPath").attr("id", "clip" + i)
          .append("rect").attr("x", colX[c]).attr("y", rowY[r]).attr("width", W).attr("height", H);

        const g = svg.append("g");
        const pg = g.append("g").attr("clip-path", "url(#clip" + i + ")");

        // confidence band
        var band = d3.area()
          .x(function (d) { return x(d); })
          .y0(function (d, k) { return y(lower[i][k]); })
          .y1(function (d, k) { return y(upper[i][k]); })
          .curve(smooth);
        pg.append("path").datum(knots).attr("d", band).attr("fill", "#bfe2f6");

        // reference level
        pg.append("line")
          .attr("x1", x(0)).attr("x2", x(90))
          .attr("y1", y(level[i])).attr("y2", y(level[i]))
          .attr("stroke", levelLight[i] ? "#b8b8b8" : "#777")
          .attr("stroke-width", 0.9)
          .attr("stroke-dasharray", levelLight[i] ? "2,2" : "3,3");

        // dense sample columns
        pg.selectAll("line.col").data(columns[i]).enter().append("line")
          .attr("class", "col")
          .attr("x1", function (d) { return x(d[0]); }).attr("x2", function (d) { return x(d[0]); })
          .attr("y1", y(0)).attr("y2", function (d) { return y(d[1]); })
          .attr("stroke", green).attr("stroke-width", 1.3)
          .attr("stroke-dasharray", "1.3,2.4");

        // single samples
        pg.selectAll("rect.pt").data(points[i]).enter().append("rect")
          .attr("class", "pt")
          .attr("x", function (d) { return x(d[0]) - 0.8; })
          .attr("y", function (d) { return y(d[1]) - 0.8; })
          .attr("width", 1.6).attr("height", 1.6)
          .attr("fill", green);

        // fitted curve
        var fit = d3.line()
          .x(function (d) { return x(d); })
          .y(function (d, k) { return y(centre[i][k]); })
          .curve(smooth);
        pg.append("path").datum(knots).attr("d", fit)
          .attr("fill", "none").attr("stroke", "#6db5e3").attr("stroke-width", 0.9);

        // observed step histogram
        var steps = [[0, 0]];
        hist[i].forEach(function (v, k) {
          steps.push([k * binWidth, v]);
          steps.push([(k + 1) * binWidth, v]);
        });
        steps.push([hist[i].length * binWidth, 0]);
        pg.append("path").datum(steps)
          .attr("d", d3.line().x(function (d) { return x(d[0]); }).y(function (d) { return y(d[1]); }))
          .attr("fill", "none").attr("stroke", "#111").attr("stroke-width", 1.3);

        // red curve
        var redLine = d3.line()
          .x(function (d) { return x(d); })
          .y(function (d, k) { return y(redCurve[i][k]); })
          .curve(smooth);
        pg.append("path").datum(redKnots).attr("d", redLine)
          .attr("fill", "none").attr("stroke", "#ff0000").attr("stroke-width", 2);

        // axes with inward ticks on all four sides
        var bottomRow = r === 5, firstCol = c === 0;
        var bx = d3.axisBottom(x).tickValues(xTicks).tickSizeInner(-5).tickSizeOuter(0).tickPadding(4)
          .tickFormat(function (d) { return bottomRow && (d < 90 || c === 3) ? d : ""; });
        var tx = d3.axisTop(x).tickValues(xTicks).tickSizeInner(-5).tickSizeOuter(0).tickFormat("");
        var ly = d3.axisLeft(y).tickValues(yTicks).tickSizeInner(-5).tickSizeOuter(0).tickPadding(7)
          .tickFormat(function (d) { return firstCol && (d < 1 || r === 0) ? d3.format(".1f")(d) : ""; });
        var ry = d3.axisRight(y).tickValues(yTicks).tickSizeInner(-5).tickSizeOuter(0).tickFormat("");

        [[bx, "translate(0," + (rowY[r] + H) + ")"], [tx, "translate(0," + rowY[r] + ")"],
         [ly, "translate(" + colX[c] + ",0)"], [ry, "translate(" + (colX[c] + W) + ",0)"]]
          .forEach(function (a) {
            var ag = g.append("g").attr("transform", a[1]).call(a[0]);
            ag.select(".domain").remove();
            ag.selectAll("line").attr("stroke", "#000");
            ag.selectAll("text").attr("font-size", 17.5).attr("fill", "#000");
          });

        g.append("rect").attr("x", colX[c]).attr("y", rowY[r]).attr("width", W).attr("height", H)
          .attr("fill", "none").attr("stroke", "#000").attr("stroke-width", 1.2);

        g.append("text").attr("x", colX[c] + 18).attr("y", rowY[r] + 45)
          .attr("font-size", 27).text(name);
      });

      // axis titles
      rowY.forEach(function (top) {
        svg.append("text")
          .attr("transform", "translate(32," + (top + H / 2) + ") rotate(-90)")
          .attr("text-anchor", "middle").attr("font-size", 29).text("Probability");
      });
      colX.forEach(function (left) {
        svg.append("text").attr("x", left + W / 2).attr("y", 1378)
          .attr("text-anchor", "middle").attr("font-size", 29).text("Slope [degrees]");
      });
    </script>
  </body>
</html>
